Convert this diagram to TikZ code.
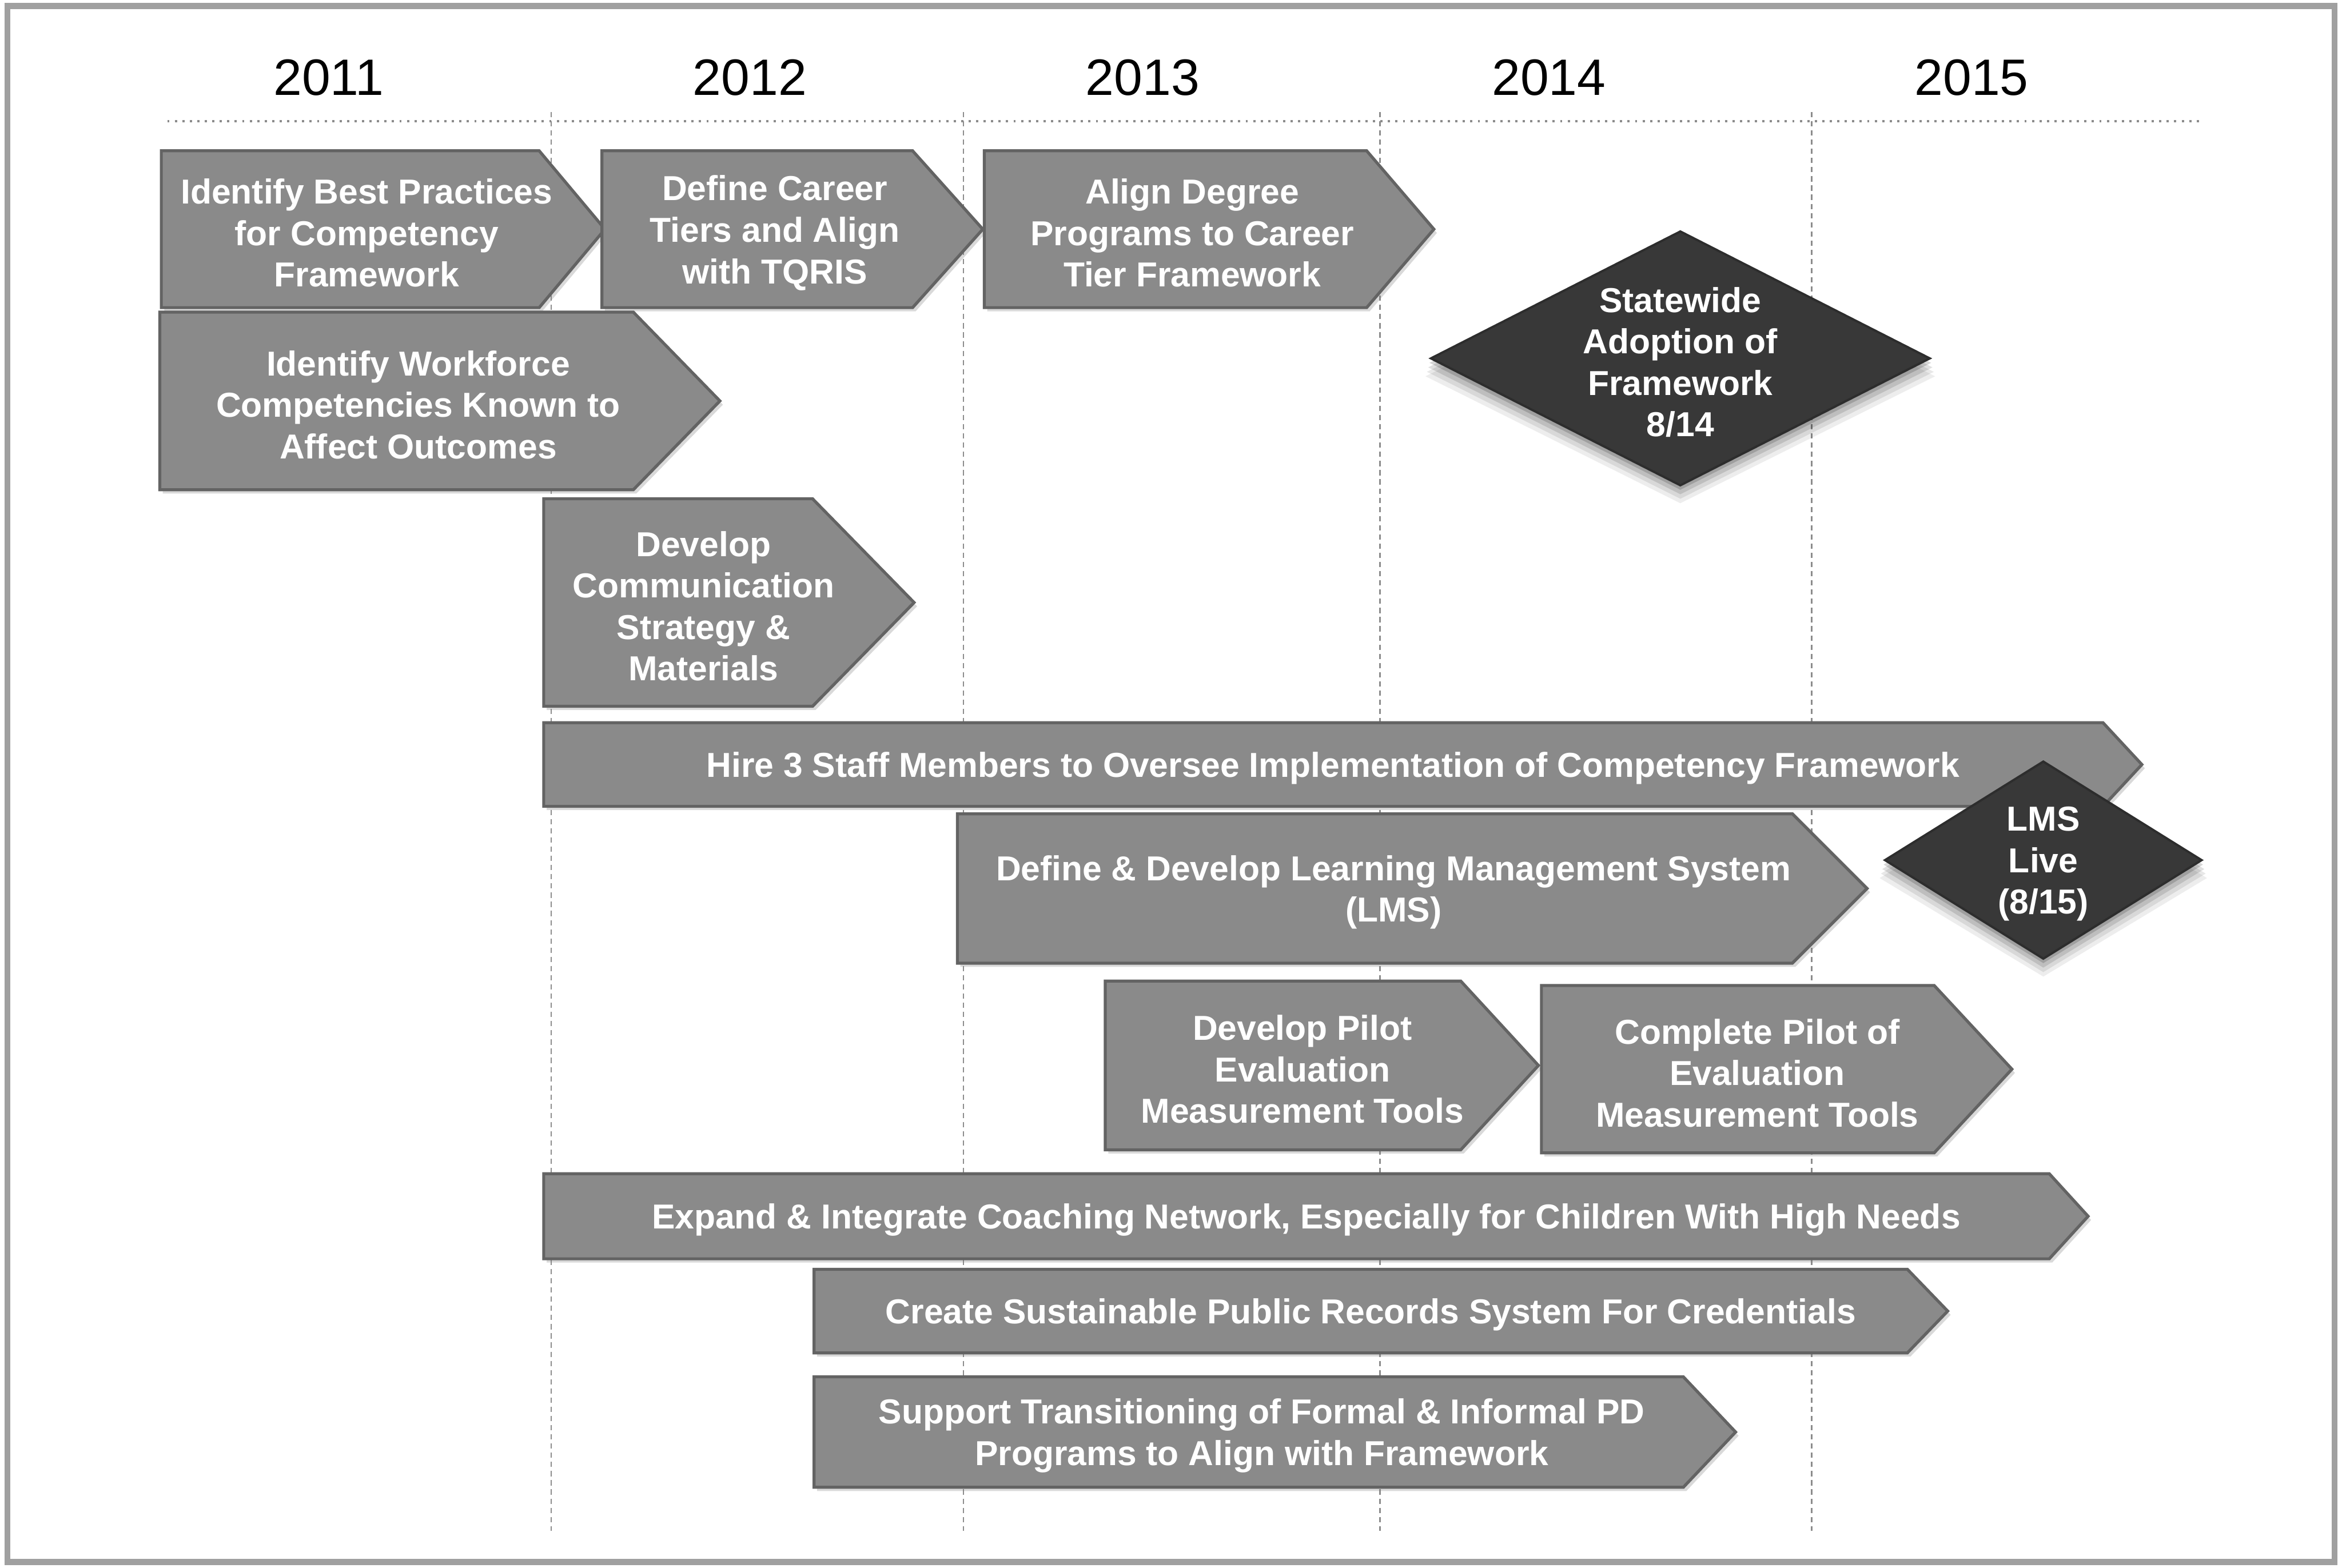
\documentclass[tikz,border=0pt]{standalone}
\usepackage{fontspec}
\setmainfont{Liberation Sans}
\usetikzlibrary{shadows}

\definecolor{barfill}{HTML}{8A8A8A}
\definecolor{barline}{HTML}{636363}
\definecolor{msfill}{HTML}{383838}
\definecolor{gridgray}{HTML}{8C8C8C}
\definecolor{framegray}{HTML}{A0A0A0}

% phase bar: name, left, top, shoulder, tip, bottom, label
\newcommand\phasebar[7]{%
  \filldraw[bar] (#2,#3) -- (#4,#3) -- (#5,{(#3+#6)/2}) -- (#4,#6) -- (#2,#6) -- cycle;
  \node[bartext] (#1) at ({(#2+(#4+#5)/2)/2},{(#3+#6)/2}) {#7};
}
% milestone diamond: name, centre x, centre y, half width, half height, label
\newcommand\milestone[6]{%
  \foreach \k/\op in {12/0.07,9/0.09,6/0.12,3/0.16}{
    \fill[black,opacity=\op] (#2-#4-\k*0.3,#3+\k) -- (#2,#3-#5+\k) -- (#2+#4+\k*0.3,#3+\k) -- (#2,#3+#5+\k) -- cycle;
  }
  \filldraw[fill=msfill,draw=msfill!80!black,line width=0.03cm] (#2-#4,#3) -- (#2,#3-#5) -- (#2+#4,#3) -- (#2,#3+#5) -- cycle;
  \node[bartext] (#1) at (#2,#3) {#6};
}

\begin{document}
\begin{tikzpicture}[x=0.02cm,y=-0.02cm,
  bar/.style={fill=barfill,draw=barline,line width=0.04cm,
    drop shadow={shadow xshift=0.04cm,shadow yshift=-0.05cm,opacity=0.3}},
  bartext/.style={text=white,font=\bfseries\fontsize{13.2}{15.8}\selectfont,
    align=center,inner sep=0pt,yshift=-0.05cm},
  yearlabel/.style={font=\fontsize{19.5}{22}\selectfont,inner sep=0pt},
  gridline/.style={gridgray,line width=0.02cm,dash pattern=on 2pt off 1.5pt},
  topline/.style={gridgray,line width=0.03cm,dotted}]

\useasboundingbox (0,0) rectangle (1568,1050);
\draw[framegray,line width=0.08cm] (5,4) rectangle (1563,1046);

% year columns
\node[yearlabel] (y2011) at (220,52) {2011};
\node[yearlabel] (y2012) at (502,52) {2012};
\node[yearlabel] (y2013) at (765,52) {2013};
\node[yearlabel] (y2014) at (1037,52) {2014};
\node[yearlabel] (y2015) at (1320,52) {2015};

\draw[topline] (112,81) -- (1475,81);
\foreach \gx in {369,645,924,1213}{
  \draw[gridline] (\gx,75) -- (\gx,1025);
}

% activities
\phasebar{bestprac}{108}{101}{361}{405}{206}{Identify Best Practices\\for Competency\\Framework}
\phasebar{careertiers}{403}{101}{611}{658}{206}{Define Career\\Tiers and Align\\with TQRIS}
\phasebar{degreeprog}{659}{101}{915}{960}{206}{Align Degree\\Programs to Career\\Tier Framework}
\phasebar{workforce}{107}{209}{424}{482}{328}{Identify Workforce\\Competencies Known to\\Affect Outcomes}
\phasebar{commstrat}{364}{334}{544}{612}{473}{Develop\\Communication\\Strategy \&\\Materials}
\phasebar{hirestaff}{364}{484}{1408}{1434}{540}{Hire 3 Staff Members to Oversee Implementation of Competency Framework}
\phasebar{lmsdev}{641}{545}{1200}{1250}{645}{Define \& Develop Learning Management System\\(LMS)}
\phasebar{pilotdev}{740}{657}{978}{1030}{770}{Develop Pilot\\Evaluation\\Measurement Tools}
\phasebar{pilotdone}{1032}{660}{1295}{1347}{772}{Complete Pilot of\\Evaluation\\Measurement Tools}
\phasebar{coaching}{364}{786}{1372}{1398}{843}{Expand \& Integrate Coaching Network, Especially for Children With High Needs}
\phasebar{records}{545}{850}{1277}{1304}{906}{Create Sustainable Public Records System For Credentials}
\phasebar{pdprog}{545}{922}{1127}{1162}{996}{Support Transitioning of Formal \& Informal PD\\Programs to Align with Framework}

% milestones
\milestone{adoption}{1125}{240}{167}{85}{Statewide\\Adoption of\\Framework\\8/14}
\milestone{lmslive}{1368}{576}{106}{66}{LMS\\Live\\(8/15)}

\end{tikzpicture}
\end{document}
